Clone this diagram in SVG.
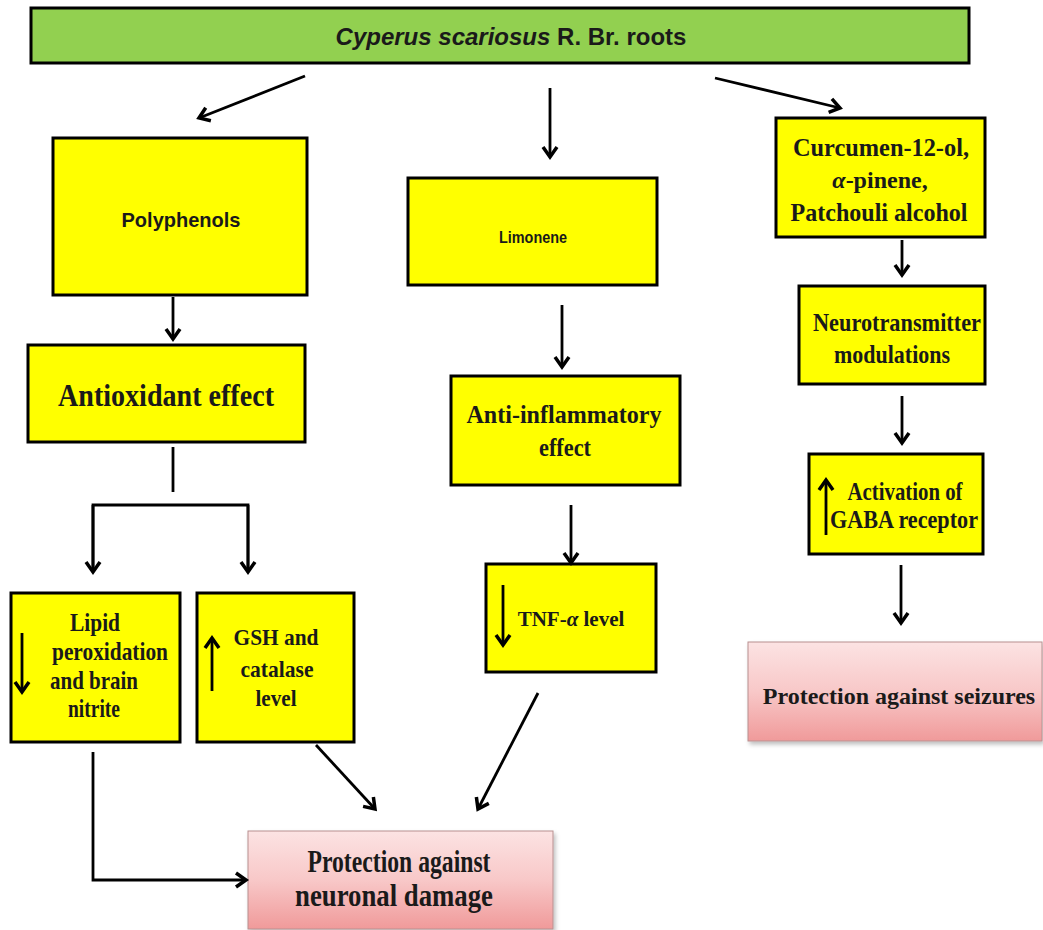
<svg xmlns="http://www.w3.org/2000/svg" width="1043" height="930" viewBox="0 0 1043 930">
<defs>
<marker id="arr" markerUnits="userSpaceOnUse" markerWidth="20" markerHeight="20" refX="15" refY="10" orient="auto" viewBox="0 0 20 20">
<path d="M5,3 L15,10 L5,17" fill="none" stroke="#000" stroke-width="3.5" stroke-linejoin="miter"/>
</marker>
<linearGradient id="pink" x1="0" y1="0" x2="0" y2="1">
<stop offset="0" stop-color="#FCE3E3"/>
<stop offset="0.5" stop-color="#F8C8C8"/>
<stop offset="1" stop-color="#F09A9A"/>
</linearGradient>
<filter id="sh" x="-5%" y="-5%" width="115%" height="120%">
<feDropShadow dx="2" dy="3" stdDeviation="2" flood-color="#000" flood-opacity="0.25"/>
</filter>
</defs>
<style>
.y{fill:#FFFF00;stroke:#000;stroke-width:3}
.g{fill:#92D050;stroke:#000;stroke-width:3}
.p{fill:url(#pink);stroke:#B89090;stroke-width:1;filter:url(#sh)}
.ts{font-family:"Liberation Serif","Times New Roman",serif;font-weight:bold;fill:#1a1a1a;text-anchor:middle}
.ta{font-family:"Liberation Sans",Arial,sans-serif;font-weight:bold;fill:#1a1a1a;text-anchor:middle}
.it{font-style:italic}
.c{fill:none;stroke:#000;stroke-width:2.8}
</style>
<rect width="1043" height="930" fill="#fff"/>

<g id="root">
<rect class="g" x="31" y="8" width="938" height="55"/>
<text class="ta" x="511" y="45" font-size="24"><tspan class="it">Cyperus scariosus</tspan> R. Br. roots</text>
</g>

<g id="polyphenols">
<rect class="y" x="53" y="138" width="254" height="157"/>
<text class="ta" x="181" y="227" font-size="21" textLength="119" lengthAdjust="spacingAndGlyphs">Polyphenols</text>
</g>

<g id="antioxidant">
<rect class="y" x="28" y="345" width="277" height="97"/>
<text class="ts" x="166" y="406" font-size="31" textLength="216" lengthAdjust="spacingAndGlyphs">Antioxidant  effect</text>
</g>

<g id="lipid">
<rect class="y" x="11" y="593" width="169" height="149"/>
<text class="ts" x="95" y="631" font-size="26" textLength="50" lengthAdjust="spacingAndGlyphs">Lipid</text>
<text class="ts" x="110" y="660" font-size="26" textLength="116" lengthAdjust="spacingAndGlyphs">peroxidation</text>
<text class="ts" x="94" y="689" font-size="26" textLength="88" lengthAdjust="spacingAndGlyphs">and brain</text>
<text class="ts" x="94" y="717" font-size="26" textLength="52" lengthAdjust="spacingAndGlyphs">nitrite</text>
<line x1="22" y1="633" x2="22" y2="692" class="c" marker-end="url(#arr)"/>
</g>

<g id="gsh">
<rect class="y" x="197" y="593" width="157" height="149"/>
<text class="ts" x="276" y="645" font-size="24" textLength="85" lengthAdjust="spacingAndGlyphs">GSH and</text>
<text class="ts" x="277" y="677" font-size="24" textLength="73" lengthAdjust="spacingAndGlyphs">catalase</text>
<text class="ts" x="276" y="706" font-size="24" textLength="41" lengthAdjust="spacingAndGlyphs">level</text>
<line x1="212" y1="691" x2="212" y2="638" class="c" marker-end="url(#arr)"/>
</g>

<g id="limonene">
<rect class="y" x="408" y="178" width="249" height="107"/>
<text class="ta" x="533" y="243" font-size="16" textLength="68" lengthAdjust="spacingAndGlyphs">Limonene</text>
</g>

<g id="antiinflammatory">
<rect class="y" x="451" y="376" width="229" height="109"/>
<text class="ts" x="564" y="423" font-size="26" textLength="195" lengthAdjust="spacingAndGlyphs">Anti-inflammatory</text>
<text class="ts" x="565" y="456" font-size="26" textLength="52" lengthAdjust="spacingAndGlyphs">effect</text>
</g>

<g id="tnf">
<rect class="y" x="486" y="564" width="170" height="108"/>
<text class="ts" x="571" y="626" font-size="21">TNF-<tspan class="it">α</tspan> level</text>
<line x1="503" y1="585" x2="503" y2="645" class="c" marker-end="url(#arr)"/>
</g>

<g id="curcumen">
<rect class="y" x="776" y="118" width="209" height="119"/>
<text class="ts" x="881" y="156" font-size="26" textLength="176" lengthAdjust="spacingAndGlyphs">Curcumen-12-ol,</text>
<text class="ts" x="880" y="188" font-size="24"><tspan class="it">α</tspan>-pinene,</text>
<text class="ts" x="879" y="221" font-size="26" textLength="177" lengthAdjust="spacingAndGlyphs">Patchouli alcohol</text>
</g>

<g id="neurotransmitter">
<rect class="y" x="799" y="286" width="186" height="98"/>
<text class="ts" x="897" y="331" font-size="25" textLength="168" lengthAdjust="spacingAndGlyphs">Neurotransmitter</text>
<text class="ts" x="892" y="363" font-size="25" textLength="116" lengthAdjust="spacingAndGlyphs">modulations</text>
</g>

<g id="gaba">
<rect class="y" x="809" y="454" width="174" height="100"/>
<text class="ts" x="905" y="500" font-size="25" textLength="115" lengthAdjust="spacingAndGlyphs">Activation of</text>
<text class="ts" x="904" y="528" font-size="25" textLength="148" lengthAdjust="spacingAndGlyphs">GABA  receptor</text>
<line x1="826" y1="535" x2="826" y2="480" class="c" marker-end="url(#arr)"/>
</g>

<g id="seizures">
<rect class="p" x="748" y="642" width="294" height="99"/>
<text class="ts" x="899" y="704" font-size="24">Protection against seizures</text>
</g>

<g id="neuronal">
<rect class="p" x="248" y="831" width="305" height="98"/>
<text class="ts" x="399" y="872" font-size="31" textLength="183" lengthAdjust="spacingAndGlyphs">Protection against</text>
<text class="ts" x="394" y="906" font-size="31" textLength="198" lengthAdjust="spacingAndGlyphs">neuronal damage</text>
</g>

<g id="connectors">
<line class="c" x1="305" y1="76" x2="199" y2="118" marker-end="url(#arr)"/>
<line class="c" x1="550" y1="88" x2="550" y2="157" marker-end="url(#arr)"/>
<line class="c" x1="715" y1="78" x2="840" y2="108" marker-end="url(#arr)"/>
<line class="c" x1="173" y1="297" x2="173" y2="339" marker-end="url(#arr)"/>
<line class="c" x1="173" y1="447" x2="173" y2="492"/>
<polyline class="c" points="93,572 93,505 248,505 248,572"/>
<line class="c" x1="93" y1="505" x2="93" y2="572" marker-end="url(#arr)"/>
<line class="c" x1="248" y1="505" x2="248" y2="572" marker-end="url(#arr)"/>
<line class="c" x1="562" y1="305" x2="562" y2="367" marker-end="url(#arr)"/>
<line class="c" x1="571" y1="505" x2="571" y2="563" marker-end="url(#arr)"/>
<line class="c" x1="902" y1="240" x2="902" y2="275" marker-end="url(#arr)"/>
<line class="c" x1="902" y1="396" x2="902" y2="443" marker-end="url(#arr)"/>
<line class="c" x1="901" y1="565" x2="901" y2="623" marker-end="url(#arr)"/>
<polyline class="c" points="93,752 93,880 246,880" marker-end="url(#arr)"/>
<line class="c" x1="316" y1="745" x2="375" y2="809" marker-end="url(#arr)"/>
<line class="c" x1="538" y1="693" x2="478" y2="809" marker-end="url(#arr)"/>
</g>
</svg>
